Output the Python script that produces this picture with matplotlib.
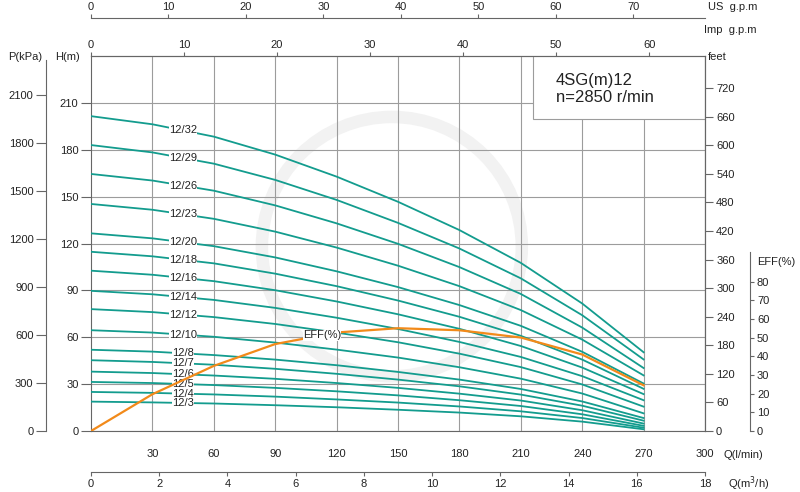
import numpy as np
import matplotlib.pyplot as plt
from matplotlib.patches import Rectangle, Ellipse

plt.rcParams['font.family'] = ['Liberation Sans', 'DejaVu Sans']
plt.rcParams['font.size'] = 8

# flow points (l/min)
q = [0, 30, 60, 90, 120, 150, 180, 210, 240, 270]

# head curves (m) for each stage count
h_32 = [201.5, 196.3, 188.4, 176.9, 162.8, 146.7, 128.6, 107.6, 81.6, 50.4]
h_29 = [183.0, 178.3, 171.1, 160.7, 147.9, 133.2, 116.8, 97.7, 74.1, 45.8]
h_26 = [164.5, 160.3, 153.8, 144.4, 132.9, 119.8, 104.9, 87.7, 66.2, 40.3]
h_23 = [145.3, 141.6, 135.8, 127.6, 117.4, 105.8, 92.7, 77.4, 58.5, 35.6]
h_20 = [126.5, 123.3, 118.3, 111.1, 102.2, 92.1, 80.6, 67.3, 50.7, 30.4]
h_18 = [114.7, 111.8, 107.3, 100.7, 92.7, 83.5, 73.1, 60.9, 45.7, 27.0]
h_16 = [102.6, 100.0, 95.9, 90.1, 82.9, 74.7, 65.4, 54.4, 40.6, 23.6]
h_14 = [89.7, 87.5, 83.9, 78.8, 72.5, 65.3, 57.0, 47.4, 35.1, 19.7]
h_12 = [78.0, 76.1, 72.9, 68.5, 63.0, 56.8, 49.5, 40.9, 29.8, 15.6]
h_10 = [64.5, 63.0, 60.3, 56.6, 52.1, 47.0, 40.8, 33.5, 24.0, 11.3]
h_8 = [52.0, 50.8, 48.6, 45.7, 42.1, 37.8, 32.9, 26.9, 18.9, 8.3]
h_7 = [45.3, 44.2, 42.4, 39.8, 36.6, 32.9, 28.6, 23.3, 16.2, 6.6]
h_6 = [38.0, 37.1, 35.5, 33.4, 30.7, 27.6, 23.9, 19.5, 13.3, 4.75]
h_5 = [31.4, 30.7, 29.4, 27.6, 25.4, 22.8, 19.7, 16.0, 10.7, 3.3]
h_4 = [25.0, 24.4, 23.4, 22.0, 20.2, 18.2, 15.7, 12.6, 8.3, 2.1]
h_3 = [18.8, 18.3, 17.6, 16.5, 15.2, 13.6, 11.8, 9.4, 6.0, 1.1]

labels = ['12/32', '12/29', '12/26', '12/23', '12/20', '12/18', '12/16', '12/14',
          '12/12', '12/10', '12/8', '12/7', '12/6', '12/5', '12/4', '12/3']
heads = [h_32, h_29, h_26, h_23, h_20, h_18, h_16, h_14,
         h_12, h_10, h_8, h_7, h_6, h_5, h_4, h_3]

# efficiency (%)
eff = [0, 19.7, 34.9, 46.6, 52.8, 55.1, 54.0, 50.1, 41.0, 24.5]

TEAL = '#139c8e'
ORANGE = '#f28a1a'
GRID = '#9c9c9c'
SPINE = '#666666'
TXT = '#222222'

W, H = 800, 492
fig = plt.figure(figsize=(8, 4.92), dpi=100)
ax = fig.add_axes([91 / W, 61 / H, 614 / W, 375 / H])
ax.set_xlim(0, 300)
ax.set_ylim(0, 240)

for s in ax.spines.values():
    s.set_color(SPINE)
ax.set_axisbelow(True)
ax.grid(True, color=GRID, lw=0.8)

# faint watermark ring
ax.add_patch(Ellipse((147, 118), 127, 166, fill=False, ec='#f2f2f2', lw=9, zorder=0.3))

ax.set_xticks(range(30, 301, 30))
ax.tick_params(axis='x', length=0, pad=13, labelcolor=TXT)
ax.set_yticks(range(0, 211, 30))
ax.tick_params(axis='y', direction='out', length=7, color=SPINE, labelcolor=TXT, pad=2)

for lab, h in zip(labels, heads):
    ax.plot(q, h, color=TEAL, lw=1.3, zorder=3)
    ax.text(45, np.interp(45, q, h), lab, ha='center', va='center', color=TXT, zorder=4,
            bbox=dict(fc='white', ec='none', pad=0))

# model box
ax.add_patch(Rectangle((216, 199.5), 84, 40.5, fc='white', ec=GRID, lw=0.8, zorder=2))
ax.text(227, 224.5, '4SG(m)12', fontsize=12, va='center', color=TXT, zorder=5)
ax.text(227, 213.5, 'n=2850 r/min', fontsize=12, va='center', color=TXT, zorder=5)

# feet axis
axf = ax.twinx()
axf.set_ylim(0, 240 / 0.3048)
axf.set_yticks(range(0, 721, 60))
for k in ['left', 'top', 'bottom']:
    axf.spines[k].set_visible(False)
axf.spines['right'].set_color(SPINE)
axf.tick_params(axis='y', direction='out', length=6, color=SPINE, labelcolor=TXT, pad=2)

# pressure axis
axp = ax.twinx()
axp.set_ylim(0, 240 * 9.78)
axp.spines['left'].set_position(('axes', -45 / 614))
axp.spines['left'].set_bounds(0, 2320)
axp.spines['left'].set_color(SPINE)
axp.spines['left'].set_visible(True)
for k in ['right', 'top', 'bottom']:
    axp.spines[k].set_visible(False)
axp.yaxis.set_ticks_position('left')
axp.set_yticks(range(0, 2101, 300))
axp.tick_params(axis='y', direction='out', length=7, color=SPINE, labelcolor=TXT, pad=2)

# efficiency axis
axe = ax.twinx()
axe.set_ylim(0, 240 / 1.194)
axe.spines['right'].set_position(('axes', 659 / 614))
axe.spines['right'].set_bounds(0, 96)
axe.spines['right'].set_color(SPINE)
for k in ['left', 'top', 'bottom']:
    axe.spines[k].set_visible(False)
axe.set_yticks(range(0, 81, 10))
axe.tick_params(axis='y', direction='out', length=3, color=SPINE, labelcolor=TXT, pad=2)
axe.plot(q, eff, color=ORANGE, lw=1.6, zorder=3)
axe.text(103.5, 51.2, 'EFF(%)', ha='left', va='center', color=TXT, zorder=5,
         bbox=dict(fc='white', ec='none', pad=0.1))

# flow scales
imp = ax.secondary_xaxis('top', functions=(lambda x: x / 4.54609, lambda x: x * 4.54609))
imp.set_xticks(range(0, 61, 10))
imp.spines['top'].set_color(SPINE)
imp.tick_params(direction='out', length=3, color=SPINE, labelcolor=TXT, pad=1.5)

us = ax.secondary_xaxis(413 / 375, functions=(lambda x: x / 3.78541, lambda x: x * 3.78541))
us.set_xticks(range(0, 71, 10))
us.spines['top'].set_color(SPINE)
us.tick_params(direction='out', length=3, color=SPINE, labelcolor=TXT, pad=1)

m3h = ax.secondary_xaxis(-41 / 375, functions=(lambda x: x * 0.06, lambda x: x / 0.06))
m3h.set_xticks(range(0, 19, 2))
m3h.spines['bottom'].set_color(SPINE)
m3h.tick_params(direction='out', length=3, color=SPINE, labelcolor=TXT, pad=2)


def ftext(x, y, s, **kw):
    fig.text(x / W, 1 - y / H, s, va='center', color=TXT, **kw)


ftext(25, 57, 'P(kPa)', ha='center')
ftext(68, 57, 'H(m)', ha='center')
ftext(708, 57, 'feet', ha='left')
ftext(757, 262, 'EFF(%)', ha='left')
ftext(708, 7, 'US  g.p.m', ha='left')
ftext(704, 30, 'Imp  g.p.m', ha='left')
ftext(724, 455, 'Q(l/min)', ha='left')
ftext(728, 484, 'Q(m$^3$/h)', ha='left')

fig.savefig('out.png', dpi=100)
